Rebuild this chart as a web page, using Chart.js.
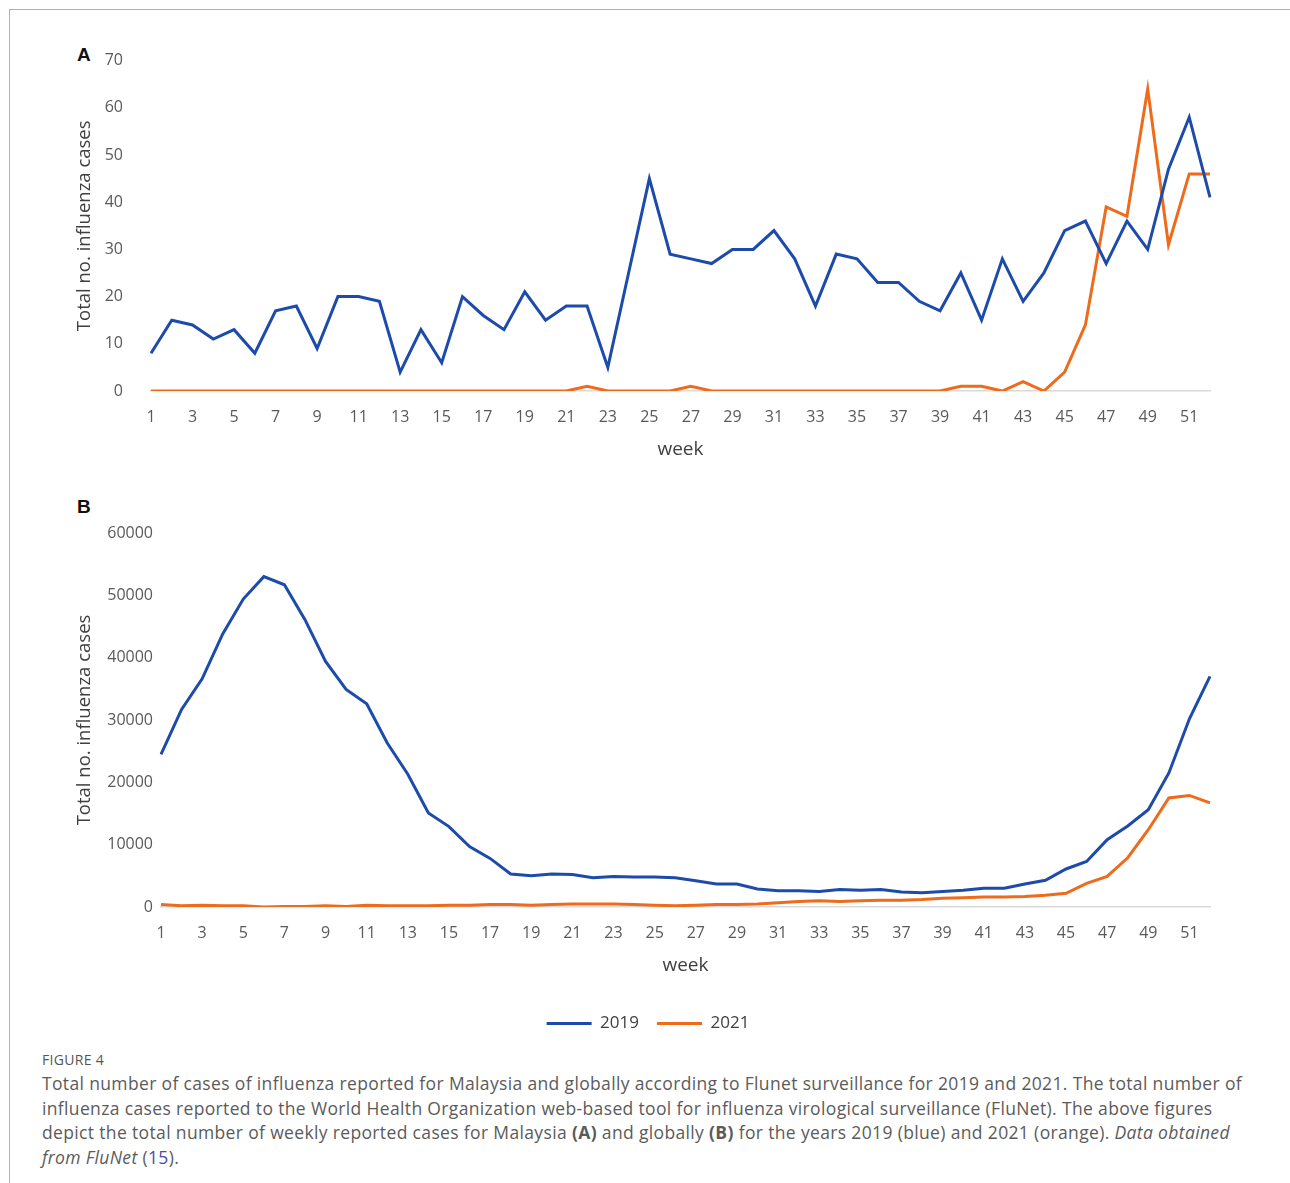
<!DOCTYPE html>
<html>
<head>
<meta charset="utf-8">
<script src="https://cdn.jsdelivr.net/npm/chart.js@4.4.1/dist/chart.umd.min.js"></script>
<style>
  body { margin: 0; background: #fff; width: 1290px; height: 1183px; overflow: hidden; position: relative; font-family: "Open Sans", sans-serif; }
  .frame { position: absolute; left: 9px; top: 9px; width: 1300px; height: 1200px; border-top: 1px solid #b0b0b0; border-left: 1px solid #b0b0b0; }
  .panel-tag { position: absolute; font: bold 19px "Liberation Sans", Arial, sans-serif; color: #111; }
  .box { position: absolute; left: 60px; width: 1180px; }
  .fig { position: absolute; left: 42px; top: 1050px; font-size: 14px; color: #555; letter-spacing: 0.3px; }
  .cap { position: absolute; left: 42px; top: 1071px; font-size: 17.5px; letter-spacing: 0.35px; line-height: 24.5px; color: #5b5b5b; white-space: nowrap; }
  .cap a { color: #4b4ba8; text-decoration: none; }
</style>
</head>
<body>
<div class="frame"></div>
<div class="panel-tag" style="left:77px; top:44px;">A</div>
<div class="panel-tag" style="left:77px; top:496px;">B</div>
<div class="box" style="top:23px; height:448px;"><canvas id="chartA"></canvas></div>
<div class="box" style="top:490px; height:552px;"><canvas id="chartB"></canvas></div>
<div class="fig">FIGURE 4</div>
<div class="cap">
Total number of cases of influenza reported for Malaysia and globally according to Flunet surveillance for 2019 and 2021. The total number of<br>
influenza cases reported to the World Health Organization web-based tool for influenza virological surveillance (FluNet). The above figures<br>
depict the total number of weekly reported cases for Malaysia <b>(A)</b> and globally <b>(B)</b> for the years 2019 (blue) and 2021 (orange). <i>Data obtained</i><br>
<i>from FluNet</i> (<a>15</a>).
</div>
<script>
// weeks 1..52
const weeks = [];
for (let w = 1; w <= 52; w++) weeks.push(w);

// A: Malaysia
const malaysia2019 = [8, 15, 14, 11, 13, 8, 17, 18, 9, 20, 20, 19, 4, 13, 6, 20, 16, 13, 21, 15, 18, 18, 5, 25, 45, 29,
  28, 27, 30, 30, 34, 28, 18, 29, 28, 23, 23, 19, 17, 25, 15, 28, 19, 25, 34, 36, 27, 36, 30, 47, 58, 41];
const malaysia2021 = [0, 0, 0, 0, 0, 0, 0, 0, 0, 0, 0, 0, 0, 0, 0, 0, 0, 0, 0, 0, 0, 1, 0, 0, 0, 0,
  1, 0, 0, 0, 0, 0, 0, 0, 0, 0, 0, 0, 0, 1, 1, 0, 2, 0, 4, 14, 39, 37, 64, 31, 46, 46];

// B: global
const global2019 = [24500, 31700, 36600, 43800, 49400, 53000, 51700, 46100, 39400, 34900, 32600, 26300, 21300, 15100, 12900, 9700,
  7800, 5300, 5000, 5300, 5200, 4700, 4900, 4800, 4800, 4700, 4200, 3700, 3700, 2900, 2600, 2600, 2500, 2800, 2700,
  2800, 2400, 2300, 2500, 2700, 3000, 3000, 3700, 4300, 6100, 7300, 10800, 13000, 15600, 21500, 30200, 37000];
const global2021 = [400, 200, 300, 200, 200, 0, 100, 100, 200, 100, 300, 200, 200, 200, 300, 300,
  400, 400, 300, 400, 500, 500, 500, 400, 300, 200, 300, 400, 400, 500, 700, 900, 1000, 900, 1000,
  1100, 1100, 1200, 1400, 1500, 1600, 1600, 1700, 1900, 2200, 3800, 4900, 7900, 12400, 17500, 17900, 16700];

const BLUE = '#1d4bab';
const ORANGE = '#ee6b1c';
const TICK = '#5a5a5a';
const tickFont = { family: 'Open Sans', size: 16 };

// cfg: per-panel layout numbers
function makeChart(id, s2019, s2021, cfg) {
  const ctx = document.getElementById(id).getContext('2d');
  return new Chart(ctx, {
    type: 'line',
    data: {
      labels: weeks,
      datasets: [
        { label: '2019', data: s2019, borderColor: BLUE, backgroundColor: BLUE, borderWidth: 3, pointRadius: 0, tension: 0 },
        { label: '2021', data: s2021, borderColor: ORANGE, backgroundColor: ORANGE, borderWidth: 3, pointRadius: 0, tension: 0 }
      ]
    },
    options: {
      responsive: true,
      maintainAspectRatio: false,
      animation: false,
      layout: { padding: { top: cfg.padTop, right: 30, bottom: 0, left: cfg.padLeft } },
      scales: {
        x: {
          grid: { display: false, drawTicks: false },
          border: { display: true, color: '#d9d9d9', width: 1.5 },
          ticks: {
            autoSkip: false, maxRotation: 0, padding: 17, color: TICK, font: tickFont,
            callback: function(value, index) { return index % 2 === 0 ? String(weeks[index]) : ''; }
          },
          title: { display: true, text: 'week', color: '#404040', font: { family: 'Open Sans', size: 19 }, padding: { top: 0, bottom: cfg.titlePad } },
          afterFit: (axis) => { axis.height = cfg.xHeight; }
        },
        y: {
          min: 0, max: cfg.yMax,
          grid: { display: false, drawTicks: false },
          border: { display: false },
          ticks: {
            stepSize: cfg.yStep, padding: cfg.yTickPad, color: TICK, font: tickFont,
            callback: (v) => String(v)
          },
          title: { display: true, text: 'Total no. influenza cases', color: '#404040', font: { family: 'Open Sans', size: 18.5 }, padding: { top: cfg.yTitlePad, bottom: 0 } },
          afterFit: (axis) => { axis.width = cfg.yWidth; }
        }
      },
      plugins: {
        tooltip: { enabled: false },
        legend: {
          display: cfg.legend,
          position: 'bottom',
          labels: {
            boxWidth: 45, boxHeight: 3, padding: 18, color: '#404040',
            font: { family: 'Open Sans', size: 17 },
            generateLabels: function(chart) {
              return Chart.defaults.plugins.legend.labels.generateLabels(chart).map(item => {
                item.lineWidth = 0;
                return item;
              });
            }
          }
        }
      }
    }
  });
}

makeChart('chartA', malaysia2019, malaysia2021,
  { yMax: 70, yStep: 10, padLeft: 0, yWidth: 91, yTickPad: 28, yTitlePad: 14, padTop: 36, xHeight: 80, titlePad: 10, legend: false });
makeChart('chartB', global2019, global2021,
  { yMax: 60000, yStep: 10000, padLeft: 26, yWidth: 75, yTickPad: 8, yTitlePad: 14 - 26, padTop: 43, xHeight: 90, titlePad: 20, legend: true });
</script>
</body>
</html>
